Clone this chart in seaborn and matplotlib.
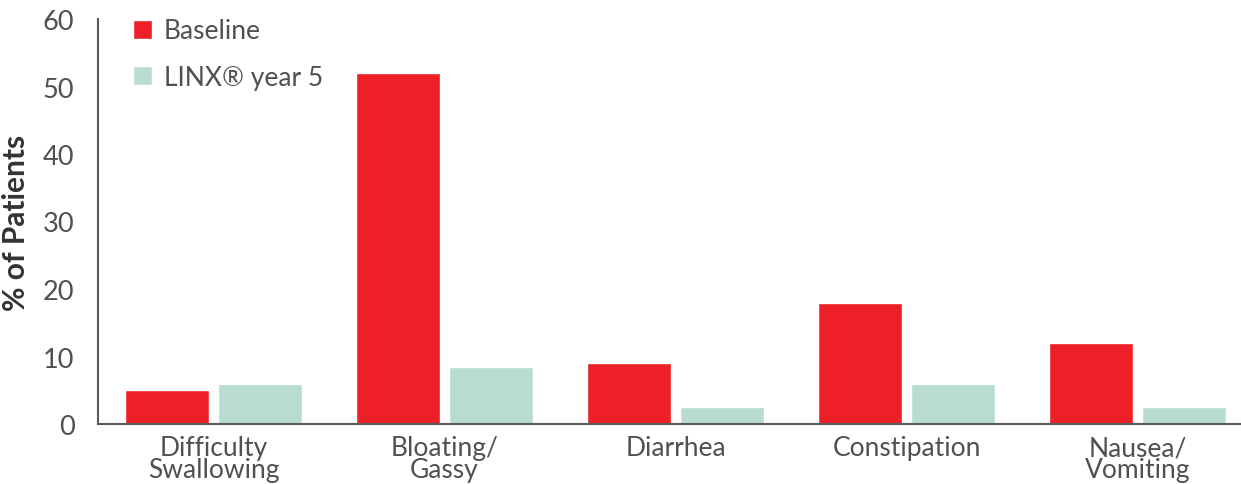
import pandas as pd
import seaborn as sns
import matplotlib.pyplot as plt
from matplotlib.ticker import FixedLocator

# data
CATEGORIES = ["Difficulty\nSwallowing", "Bloating/\nGassy", "Diarrhea", "Constipation", "Nausea/\nVomiting"]
BASELINE = [5, 52, 9, 18, 12]
LINX_Y5 = [6, 8.5, 2.5, 6, 2.5]
SERIES = ["Baseline", "LINX® year 5"]
Y_TICKS = [0, 10, 20, 30, 40, 50, 60]

RED = "#ED2027"
MINT = "#B8DDCF"
TEXT = "#505050"
AXIS = "#5A5A5A"

df = pd.DataFrame({
    "category": CATEGORIES * 2,
    "series": [SERIES[0]] * len(CATEGORIES) + [SERIES[1]] * len(CATEGORIES),
    "value": BASELINE + LINX_Y5,
})

sns.set_style("white")
plt.rcParams["font.family"] = ["Lato", "DejaVu Sans"]

fig = plt.figure(figsize=(12.41, 4.85), dpi=100)
ax = fig.add_axes([98 / 1241, 60 / 485, 1143 / 1241, 405 / 485])

sns.barplot(data=df, x="category", y="value", hue="series",
            palette=[RED, MINT], width=0.8, gap=0.09,
            saturation=1, ax=ax, legend=True)

ax.set_ylim(0, 60)
ax.set_xlim(-0.5, -0.5 + 1143 / 231)
ax.set_yticks(Y_TICKS)
ax.set_yticklabels([str(t) for t in Y_TICKS], fontsize=19.5, color=TEXT)
ax.tick_params(axis="y", length=0, pad=17)
ax.tick_params(axis="x", which="major", length=0, pad=8)
ax.xaxis.set_minor_locator(FixedLocator([0.5, 1.5, 2.5, 3.5]))
ax.tick_params(axis="x", which="minor", direction="in", length=10, width=1.5, color=AXIS)
for lab in ax.get_xticklabels():
    lab.set_fontsize(19)
    lab.set_color(TEXT)
    lab.set_linespacing(0.85)
    lab.set_verticalalignment("top")

ax.set_xlabel("")
ax.set_ylabel("% of Patients", fontsize=21.5, fontweight="bold", color="#333333", labelpad=9)

sns.despine(ax=ax)
for s in ["left", "bottom"]:
    ax.spines[s].set_color(AXIS)
    ax.spines[s].set_linewidth(1.5)

leg = ax.legend(loc="upper left", bbox_to_anchor=(0.01, 1.06), frameon=False,
                handlelength=0.72, handleheight=0.72, handletextpad=0.45,
                labelspacing=0.8, fontsize=19)
for t in leg.get_texts():
    t.set_color(TEXT)

fig.savefig("out.png", dpi=100)
